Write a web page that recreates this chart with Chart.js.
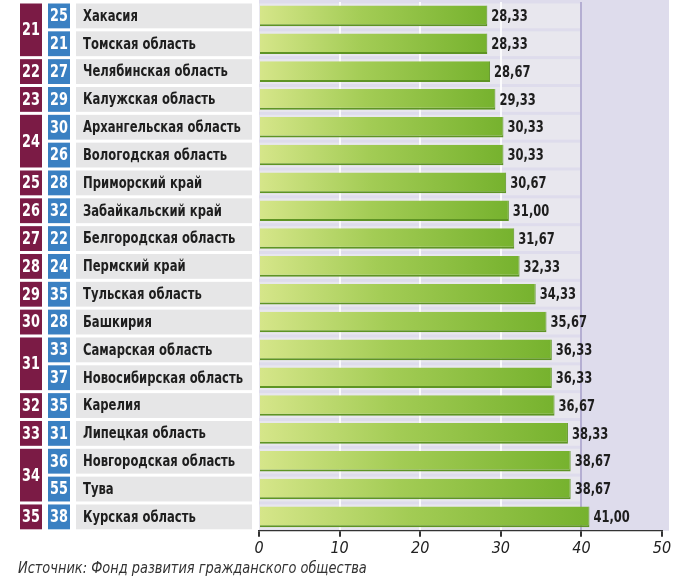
<!DOCTYPE html>
<html>
<head>
<meta charset="utf-8">
<script src="https://cdn.jsdelivr.net/npm/chart.js@4"></script>
<style>
  html, body { margin: 0; padding: 0; background: #fff; }
  #wrap { width: 684px; height: 578px; position: relative; }
</style>
</head>
<body>
<div id="wrap"><canvas id="rating"></canvas></div>
<script>
// место в рейтинге, прошлое место, регион, балл
const ranks = [21, 21, 22, 23, 24, 24, 25, 26, 27, 28, 29, 30, 31, 31, 32, 33, 34, 34, 35];
const prevRanks = [25, 21, 27, 29, 30, 26, 28, 32, 22, 24, 35, 28, 33, 37, 35, 31, 36, 55, 38];
const regions = [
  'Хакасия', 'Томская область', 'Челябинская область', 'Калужская область',
  'Архангельская область', 'Вологодская область', 'Приморский край', 'Забайкальский край',
  'Белгородская область', 'Пермский край', 'Тульская область', 'Башкирия',
  'Самарская область', 'Новосибирская область', 'Карелия', 'Липецкая область',
  'Новгородская область', 'Тува', 'Курская область'
];
const scores = [28.33, 28.33, 28.67, 29.33, 30.33, 30.33, 30.67, 31.00, 31.67, 32.33,
  34.33, 35.67, 36.33, 36.33, 36.67, 38.33, 38.67, 38.67, 41.00];
const xTicks = [0, 10, 20, 30, 40, 50];
const source = 'Источник: Фонд развития гражданского общества';

const NARROW = '"Liberation Sans Narrow", "DejaVu Sans Condensed", "Roboto Condensed", sans-serif';

// узкий текст: шрифт сжимаем по горизонтали
function narrowText(ctx, text, x, y, k) {
  ctx.save();
  ctx.translate(x, y);
  ctx.scale(k, 1);
  ctx.fillText(text, 0, 0);
  ctx.restore();
}

// фон, полосы строк, плашки слева
const sidePlugin = {
  id: 'side',
  beforeDraw(chart) {
    const { ctx, chartArea: a, scales: { x, y } } = chart;
    const pitch = Math.abs(y.getPixelForValue(1) - y.getPixelForValue(0));
    ctx.save();
    // сиреневый фон
    ctx.fillStyle = '#dedcec';
    ctx.fillRect(a.left, 0, a.right - a.left + 7, a.bottom);
    // светлые полосы строк
    ctx.fillStyle = '#e8e7ee';
    const x40 = x.getPixelForValue(40);
    regions.forEach((r, i) => {
      const c = y.getPixelForValue(i);
      ctx.fillRect(a.left, c - pitch / 2 + 1.5, x40 - a.left, pitch - 3);
    });
    // серые плашки с названиями
    ctx.textBaseline = 'middle';
    regions.forEach((r, i) => {
      const c = y.getPixelForValue(i);
      ctx.fillStyle = '#e6e6e7';
      ctx.fillRect(76, c - pitch / 2 + 1.5, 176, pitch - 3);
      ctx.fillStyle = '#3a80c2';
      ctx.fillRect(48, c - pitch / 2 + 1.5, 22, pitch - 3);
      ctx.fillStyle = '#fff';
      ctx.font = 'bold 17px ' + NARROW;
      ctx.textAlign = 'center';
      narrowText(ctx, String(prevRanks[i]), 59, c + 1, 0.84);
      ctx.fillStyle = '#1e1e1e';
      ctx.font = 'bold 15px ' + NARROW;
      ctx.textAlign = 'left';
      narrowText(ctx, r, 83, c + 1, 0.86);
    });
    // бордовые плашки с местом (объединяем одинаковые)
    let i = 0;
    while (i < ranks.length) {
      let j = i;
      while (j + 1 < ranks.length && ranks[j + 1] === ranks[i]) j++;
      const top = y.getPixelForValue(i) - pitch / 2 + 1.5;
      const bottom = y.getPixelForValue(j) + pitch / 2 - 1.5;
      ctx.fillStyle = '#7b1b45';
      ctx.fillRect(20, top, 22, bottom - top);
      ctx.fillStyle = '#fff';
      ctx.font = 'bold 17px ' + NARROW;
      ctx.textAlign = 'center';
      narrowText(ctx, String(ranks[i]), 31, (top + bottom) / 2 + 1, 0.84);
      i = j + 1;
    }
    ctx.restore();
  },
  afterDatasetsDraw(chart) {
    const { ctx, scales: { x, y } } = chart;
    ctx.save();
    ctx.font = 'bold 16px ' + NARROW;
    ctx.fillStyle = '#1e1e1e';
    ctx.textAlign = 'left';
    ctx.textBaseline = 'middle';
    scores.forEach((v, i) => {
      narrowText(ctx, v.toFixed(2).replace('.', ','), x.getPixelForValue(v) + 4, y.getPixelForValue(i) + 1, 0.8);
    });
    ctx.font = 'italic 16px ' + NARROW;
    ctx.fillStyle = '#333';
    ctx.textBaseline = 'alphabetic';
    narrowText(ctx, source, 18, 573, 0.9);
    ctx.restore();
  }
};

function barFill(context) {
  const chart = context.chart;
  const { chartArea, scales } = chart;
  if (!chartArea) return '#8cc043';
  const v = scores[context.dataIndex];
  const x0 = scales.x.getPixelForValue(0);
  const x1 = scales.x.getPixelForValue(v);
  const g = chart.ctx.createLinearGradient(x0, 0, x1, 0);
  g.addColorStop(0, '#d6e68a');
  g.addColorStop(0.45, '#a3cc55');
  g.addColorStop(1, '#76b22e');
  return g;
}

new Chart(document.getElementById('rating'), {
  type: 'bar',
  data: {
    labels: regions,
    datasets: [{
      data: scores,
      backgroundColor: barFill,
      borderColor: '#5e9424',
      borderWidth: { bottom: 2, right: 1, top: 0, left: 0 },
      borderSkipped: false,
      categoryPercentage: 1,
      barPercentage: 0.74
    }]
  },
  plugins: [sidePlugin],
  options: {
    indexAxis: 'y',
    responsive: true,
    maintainAspectRatio: false,
    animation: false,
    layout: { padding: { left: 259, right: 22, top: 2, bottom: 18 } },
    plugins: { legend: { display: false }, tooltip: { enabled: false } },
    scales: {
      y: { display: false },
      x: {
        min: 0,
        max: 50,
        afterBuildTicks: s => { s.ticks = xTicks.map(v => ({ value: v })); },
        border: { display: true, color: '#333', width: 1.2 },
        grid: {
          drawOnChartArea: true,
          color: c => c.tick && c.tick.value === 40 ? '#b4aed2' : (c.tick && c.tick.value > 0 && c.tick.value < 40 ? '#fbfbfd' : 'rgba(0,0,0,0)'),
          lineWidth: 2,
          tickColor: '#333',
          tickLength: 6
        },
        ticks: {
          color: '#222',
          padding: 2,
          font: { family: NARROW, size: 16, style: 'italic' }
        }
      }
    }
  }
});
</script>
</body>
</html>
